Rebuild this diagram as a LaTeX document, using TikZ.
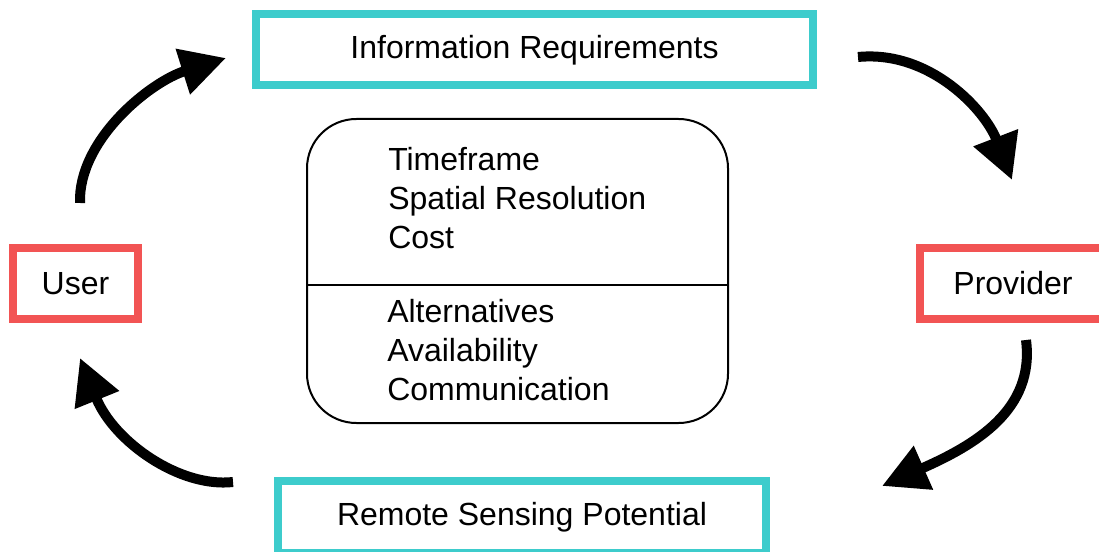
\documentclass[tikz,border=0pt]{standalone}
\usepackage{fontspec}
\setmainfont{Liberation Sans}
\usetikzlibrary{arrows.meta}
\definecolor{boxteal}{RGB}{61,204,204}
\definecolor{boxred}{RGB}{242,84,84}
\tikzset{
  label text/.style={font=\fontsize{24}{28.9}\selectfont},
  tealbox/.style={draw=boxteal, line width=6pt, label text, inner sep=0pt, minimum height=53.5pt},
  redbox/.style={draw=boxred, line width=6pt, label text, inner sep=0pt, minimum height=53.5pt},
  flow/.style={line width=7.5pt, -{Triangle[length=34pt,width=34pt]}},
}
\begin{document}
\begin{tikzpicture}[x=0.75pt,y=0.75pt,yscale=-1,xscale=1]
        \useasboundingbox (0,0) rectangle (1099,552);

        % Boxes
        \node [tealbox, minimum width=417.75pt] (info) at (534.5,49.75) {Information Requirements};
        \node [redbox, minimum width=93.75pt] (user) at (75.5,283.5) {User};
        \node [redbox, minimum width=139.5pt] (provider) at (1013,283.5) {Provider};
        \node [tealbox, minimum width=366pt] (remote) at (522,517) {Remote Sensing Potential};

        % Centre box
        \node [draw, line width=1.5pt, rounded corners=37pt, minimum width=315.75pt, minimum height=228pt] (centre) at (517.5,271) {};
        \coordinate (split) at (0,285);
        \draw [line width=1.5pt] (centre.west |- split) -- (centre.east |- split);
        \node [label text, align=left, anchor=base west, inner sep=0pt] (needs) at (388,248) {Timeframe\\Spatial Resolution\\Cost};
        \node [label text, align=left, anchor=base west, inner sep=0pt] (options) at (387,400) {Alternatives\\Availability\\Communication};

        % Arrows
        \coordinate (a1) at (80,203);
        \coordinate (b1) at (226,58);
        \coordinate (a2) at (858,57);
        \coordinate (b2) at (1012,180);
        \coordinate (a3) at (1026,340);
        \coordinate (b3) at (882,486);
        \coordinate (a4) at (233,482);
        \coordinate (b4) at (80,358);
        \draw [flow] (a1) .. controls (78,140) and (150,82) .. (b1);
        \draw [flow] (a2) .. controls (930,50) and (985,110) .. (b2);
        \draw [flow] (a3) .. controls (1035,410) and (975,445) .. (b3);
        \draw [flow] (a4) .. controls (180,488) and (114,442) .. (b4);

    \end{tikzpicture}
\end{document}
